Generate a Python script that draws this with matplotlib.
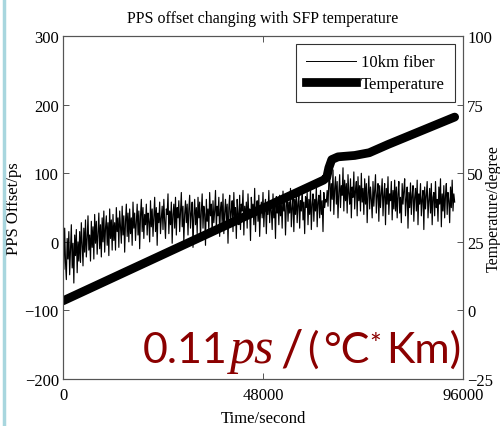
import numpy as np
import matplotlib
matplotlib.use("Agg")
import matplotlib.pyplot as plt
from matplotlib.lines import Line2D

plt.rcParams['font.family'] = ['Liberation Serif', 'DejaVu Serif']

""" PPS offset of the 10km fiber, one sample every 200 s (read off the picture) """
fiber_step = 200
fiber_ps = [
    -5, -40, 20, -30, -55, 5, -25, 15, -48, -10, 25, -38, -2, -60, 10, -20, 18, -45, 0, -28,
    15, -30, 28, -5, -35, 20, -15, 32, -22, 5, 38, -12, 10, -28, 30, -8, 22, -25, 40, -2,
    30, -18, 12, 42, -10, 25, -22, 35, 0, 45, -15, 20, 38, -5, 28, -20, 48, 5, 32, -12,
    40, 2, 28, -12, 50, 15, 35, -8, 45, 22, -2, 52, 10, 38, -15, 30, 55, 8, 42, 0,
    48, 12, 35, -5, 58, 20, 42, 2, 30, 55, 10, 45, -10, 38, 62, 15, 50, 5, 40, 25,
    55, 10, 42, 30, 0, 60, 22, 48, 8, 38, 65, 15, 50, -5, 42, 28, 58, 12, 35, 52,
    18, 62, 30, 5, 48, 40, 70, 12, 45, 25, 58, -2, 40, 55, 20, 65, 10, 50, 35, 60,
    15, 45, 72, 22, 52, 0, 40, 60, 28, 55, 10, 48, 68, 20, 42, 58, -8, 38, 62, 25,
    50, 12, 65, 35, 58, 5, 45, 70, 20, 52, 40, -5, 62, 30, 48, 15, 72, 38, 55, 10,
    60, 28, 45, 75, 18, 52, 38, 65, 8, 48, 58, 25, 70, 12, 42, 62, 30, 55, -2, 50,
    68, 22, 45, 60, 15, 72, 35, 50, 5, 62, 40, 25, 68, 18, 55, 45, 75, 10, 52, 32,
    58, 20, 70, 38, 48, 2, 65, 42, 55, 25, 78, 15, 50, 60, 30, 68, 8, 45, 58, 35,
    72, 22, 50, 62, 12, 55, 40, 75, 28, 60, 45, 18, 70, 35, 52, 5, 66, 42, 58, 25,
    68, 38, 55, 20, 74, 45, 60, 10, 52, 70, 30, 58, 42, 78, 22, 50, 65, 15, 62, 40,
    75, 28, 55, 68, 20, 60, 45, 80, 32, 58, 12, 66, 50, 72, 25, 62, 40, 78, 18, 55,
    70, 30, 62, 45, 82, 22, 58, 68, 35, 75, 40, 60, 15, 72, 50, 62, 58, 75, 52, 88,
    100, 45, 85, 62, 105, 40, 78, 95, 55, 88, 35, 72, 98, 50, 82, 68, 108, 45, 90, 60,
    85, 42, 98, 70, 55, 92, 35, 80, 65, 102, 48, 75, 88, 38, 95, 60, 82, 45, 100, 58,
    78, 40, 92, 55, 85, 28, 70, 96, 48, 80, 62, 35, 88, 52, 75, 98, 42, 68, 85, 30,
    82, 50, 72, 92, 38, 68, 85, 25, 78, 55, 95, 40, 70, 60, 88, 32, 75, 48, 90, 45,
    80, 35, 70, 88, 42, 65, 28, 85, 55, 75, 92, 38, 62, 80, 20, 72, 50, 86, 40, 68,
    82, 30, 65, 78, 45, 90, 25, 70, 55, 85, 38, 62, 75, 18, 80, 48, 68, 88, 35, 60,
    78, 42, 85, 25, 65, 72, 38, 88, 50, 62, 30, 80, 55, 92, 22, 70, 45, 82, 35, 68,
    85, 40, 72, 60, 28, 80, 50, 90, 45, 70, 58,
]

""" SFP temperature (right axis), breakpoints of the thick curve """
temp_time = [0, 62500, 63300, 63800, 64500, 66000, 70000, 73500, 78000, 94000]
temp_deg = [3.5, 47.5, 48.5, 52, 55, 56, 56.5, 57.5, 60.5, 70.5]

x_ticks = [0, 48000, 96000]
left_ticks = [-200, -100, 0, 100, 200, 300]
right_ticks = [-25, 0, 25, 50, 75, 100]

""" pieces of the red note: text, left edge px, baseline px, size, family, style """
note_pieces = [
    ('0.11', 143, 363, 31, 'Lato', 'normal'),
    ('ps', 230, 363, 36, 'Liberation Serif', 'italic'),
    ('/', 280, 366, 36, 'Lato', 'normal'),
    ('(', 307, 363, 31, 'Lato', 'normal'),
    ('°C', 323, 363, 31, 'Lato', 'normal'),
    ('*', 369, 354, 20, 'Lato', 'normal'),
    ('Km)', 386, 363, 31, 'Lato', 'normal'),
]

spine_col = '#555555'
red = '#8b0000'


def style_axis(ax):
    for s in ax.spines.values():
        s.set_color(spine_col)
        s.set_linewidth(0.8)
    ax.tick_params(direction='in', length=4, width=0.7, color=spine_col,
                   labelsize=12, pad=3)


def minus(v):
    return str(v).replace('-', '\u2212')


""" the big red slope note, put together piece by piece like the slide """
def slope_note(fig):
    for txt, px, base, size, fam, sty in note_pieces:
        fig.text(px / 500, (427 - base) / 427, txt, color=red, fontsize=size,
                 family=fam, style=sty, ha='left', va='baseline')


def main():
    fig = plt.figure(figsize=(5.0, 4.27), dpi=100)
    ax = fig.add_axes([0.126, 0.110, 0.800, 0.803])
    ax2 = ax.twinx()

    t = np.arange(len(fiber_ps)) * fiber_step
    ax.plot(t, fiber_ps, color='black', lw=0.85)
    ax2.plot(temp_time, temp_deg, color='black', lw=6.3,
             solid_joinstyle='round', solid_capstyle='round')

    ax.set_xlim(0, 96000)
    ax.set_ylim(-200, 300)
    ax2.set_ylim(-25, 100)
    ax.set_xticks(x_ticks)
    ax.set_yticks(left_ticks)
    ax2.set_yticks(right_ticks)
    ax.xaxis.set_ticks_position('both')
    ax.set_yticklabels([minus(v) for v in left_ticks])
    ax2.set_yticklabels([minus(v) for v in right_ticks])
    style_axis(ax)
    style_axis(ax2)
    ax.tick_params(axis='x', pad=6)

    ax.set_title('PPS offset changing with SFP temperature', fontsize=11.5, pad=10)
    ax.set_xlabel('Time/second', fontsize=12, labelpad=5)
    ax.set_ylabel('PPS Offset/ps', fontsize=12, labelpad=2)
    ax2.set_ylabel('Temperature/degree', fontsize=11.5)
    ax2.yaxis.set_label_coords(1.056, 0.5)

    handles = [Line2D([], [], color='black', lw=0.7),
               Line2D([], [], color='black', lw=6.3)]
    leg = ax2.legend(handles, ['10km fiber', 'Temperature'], loc='upper right',
                     fontsize=12, frameon=True, fancybox=False,
                     edgecolor='black', handlelength=3.0, borderaxespad=0.5,
                     labelspacing=0.35, handletextpad=0.3, borderpad=0.6)
    leg.get_frame().set_linewidth(0.8)

    slope_note(fig)

    # light blue slide border on the left
    fig.add_artist(Line2D([0.007, 0.007], [0, 1], color='#a8d6de', lw=2.5,
                          transform=fig.transFigure))

    fig.savefig('out.png', dpi=100)


if __name__ == "__main__":
    main()
